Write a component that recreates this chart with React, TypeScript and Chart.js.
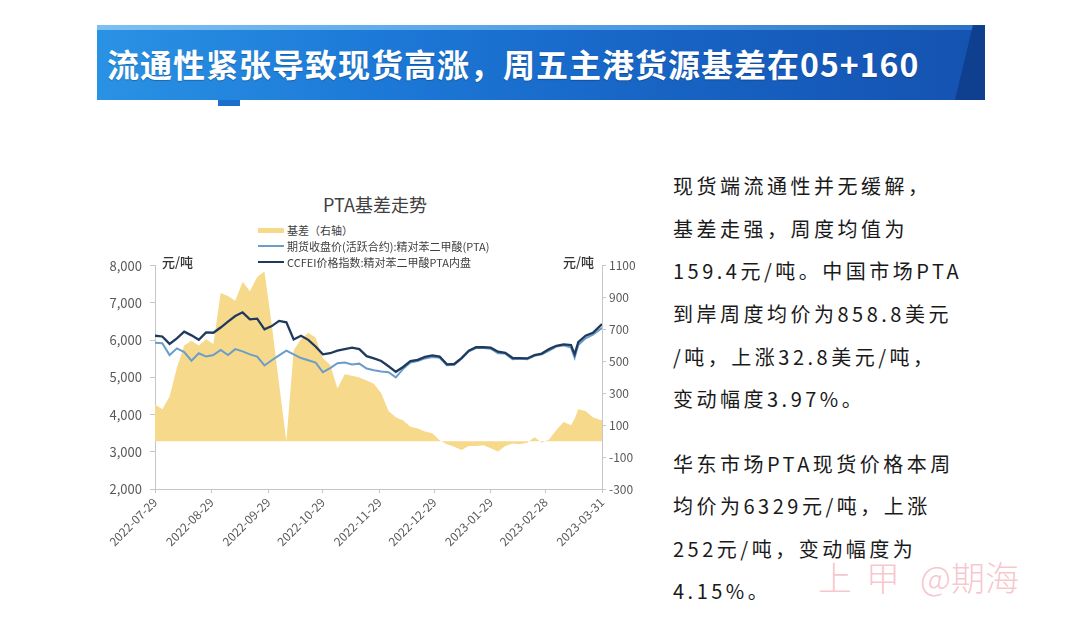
import React, { useEffect, useRef } from "react";
import { Chart, registerables } from "chart.js";

Chart.register(...registerables);

const dates = [
  "2022-07-29", "2022-08-02", "2022-08-06", "2022-08-10", "2022-08-14", "2022-08-18", "2022-08-22", "2022-08-26",
  "2022-08-30", "2022-09-03", "2022-09-07", "2022-09-11", "2022-09-15", "2022-09-19", "2022-09-23", "2022-09-27",
  "2022-10-01", "2022-10-05", "2022-10-09", "2022-10-13", "2022-10-17", "2022-10-21", "2022-10-25", "2022-10-29",
  "2022-11-02", "2022-11-06", "2022-11-10", "2022-11-14", "2022-11-18", "2022-11-22", "2022-11-26", "2022-11-30",
  "2022-12-04", "2022-12-08", "2022-12-12", "2022-12-16", "2022-12-20", "2022-12-24", "2022-12-28", "2023-01-01",
  "2023-01-05", "2023-01-09", "2023-01-13", "2023-01-17", "2023-01-21", "2023-01-25", "2023-01-29", "2023-02-02",
  "2023-02-06", "2023-02-10", "2023-02-14", "2023-02-18", "2023-02-22", "2023-02-26", "2023-03-02", "2023-03-06",
  "2023-03-10", "2023-03-14", "2023-03-16", "2023-03-18", "2023-03-22", "2023-03-26", "2023-03-31",
];

const ccfeiIndex = [
  6120, 6100, 5900, 6050, 6230, 6130, 6010, 6210,
  6200, 6340, 6500, 6650, 6750, 6560, 6580, 6290,
  6380, 6520, 6480, 6020, 6120, 6010, 5830, 5620,
  5650, 5720, 5760, 5800, 5760, 5570, 5510, 5440,
  5300, 5150, 5280, 5440, 5470, 5550, 5590, 5560,
  5350, 5360, 5520, 5720, 5810, 5810, 5800, 5690,
  5660, 5520, 5520, 5510, 5600, 5640, 5760, 5850,
  5890, 5870, 5620, 5950, 6120, 6200, 6430,
];

const futuresClose = [
  5930, 5920, 5600, 5780, 5680, 5450, 5650, 5560,
  5600, 5740, 5600, 5760, 5700, 5620, 5560, 5320,
  5460, 5590, 5720, 5620, 5520, 5460, 5400, 5140,
  5250, 5380, 5400, 5350, 5370, 5240, 5190, 5160,
  5140, 5000, 5230, 5400, 5440, 5510, 5550, 5530,
  5330, 5340, 5500, 5700, 5790, 5790, 5770, 5650,
  5640, 5490, 5500, 5490, 5580, 5620, 5720, 5830,
  5860, 5800, 5530, 5870, 6050, 6150, 6330,
];

const basisRightAxis = [
  230, 200, 280, 460, 600, 630, 600, 640,
  610, 930, 910, 880, 1000, 940, 1030, 1065,
  730, 360, 0, 570, 640, 680, 650, 520,
  480, 330, 420, 410, 400, 380, 360, 300,
  190, 150, 130, 90, 80, 60, 50, 5,
  -20, -35, -55, -30, -30, -25, -45, -65,
  -30, -15, -20, -10, 25, -10, 10, 70,
  120, 100, 140, 200, 190, 150, 130,
];

const xTickLabels = [
  "2022-07-29", "2022-08-29", "2022-09-29", "2022-10-29", "2022-11-29",
  "2022-12-29", "2023-01-29", "2023-02-28", "2023-03-31",
];
const leftTicks = [2000, 3000, 4000, 5000, 6000, 7000, 8000];
const rightTicks = [-300, -100, 100, 300, 500, 700, 900, 1100];

const legendLabels = [
  "基差（右轴）",
  "期货收盘价(活跃合约):精对苯二甲酸(PTA)",
  "CCFEI价格指数:精对苯二甲酸PTA内盘",
];
const chartTitle = "PTA基差走势";
const unitLabel = "元/吨";
const headline = "流通性紧张导致现货高涨，周五主港货源基差在05+160";
const para1 = [
  "现货端流通性并无缓解，",
  "基差走强，周度均值为",
  "159.4元/吨。中国市场PTA",
  "到岸周度均价为858.8美元",
  "/吨，上涨32.8美元/吨，",
  "变动幅度3.97%。",
];
const para2 = [
  "华东市场PTA现货价格本周",
  "均价为6329元/吨，上涨",
  "252元/吨，变动幅度为",
  "4.15%。",
];
const watermark = ["上甲", "@期海"];

const COLOR_CCFEI = "#1f3a5c";
const COLOR_FUT = "#6a9dc9";
const COLOR_BASIS = "#f7d98c";
const FONT = "'Noto Sans CJK SC', 'Noto Sans', sans-serif";

export default function App() {
  const ref = useRef<HTMLCanvasElement>(null);

  useEffect(() => {
    const t0 = Date.parse(dates[0]);
    const dayOf = (s: string) => Math.round((Date.parse(s) - t0) / 86400000);
    const xs = dates.map(dayOf);
    const toPts = (arr: number[]) => arr.map((y, i) => ({ x: xs[i], y }));
    const xTickDays = xTickLabels.map(dayOf);
    const tickFont = { family: FONT, size: 12 };
    const yTickFont = { family: FONT, size: 13 };
    const axisColor = "#c6c6c6";

    const chart = new Chart(ref.current as HTMLCanvasElement, {
      type: "line",
      data: {
        datasets: [
          {
            label: legendLabels[2],
            data: toPts(ccfeiIndex),
            borderColor: COLOR_CCFEI,
            borderWidth: 2.3,
            pointRadius: 0,
            yAxisID: "y",
            order: 1,
            fill: false,
          },
          {
            label: legendLabels[1],
            data: toPts(futuresClose),
            borderColor: COLOR_FUT,
            borderWidth: 2,
            pointRadius: 0,
            yAxisID: "y",
            order: 2,
            fill: false,
          },
          {
            label: legendLabels[0],
            data: toPts(basisRightAxis),
            borderColor: "rgba(0,0,0,0)",
            borderWidth: 0,
            backgroundColor: COLOR_BASIS,
            pointRadius: 0,
            yAxisID: "y1",
            order: 3,
            fill: "origin",
          },
        ],
      },
      options: {
        animation: false,
        responsive: false,
        maintainAspectRatio: false,
        layout: { padding: { top: 13, left: 0, right: 0, bottom: 0 } },
        plugins: {
          legend: { display: false },
          title: { display: false },
          tooltip: { enabled: false },
        },
        scales: {
          x: {
            type: "linear",
            min: 0,
            max: xTickDays[xTickDays.length - 1],
            afterBuildTicks: (s: any) => {
              s.ticks = xTickDays.map((v) => ({ value: v }));
            },
            afterFit: (s: any) => {
              s.height = 91;
            },
            ticks: {
              autoSkip: false,
              minRotation: 45,
              maxRotation: 45,
              padding: 2,
              color: "#595959",
              font: tickFont,
              callback: (_v: any, i: number) => xTickLabels[i],
            },
            grid: { display: true, drawOnChartArea: false, drawTicks: true, tickLength: 4, color: axisColor },
            border: { display: true, color: axisColor },
          },
          y: {
            position: "left",
            min: leftTicks[0],
            max: leftTicks[leftTicks.length - 1],
            afterBuildTicks: (s: any) => {
              s.ticks = leftTicks.map((v) => ({ value: v }));
            },
            afterFit: (s: any) => {
              s.width = 55;
            },
            ticks: {
              padding: 8,
              color: "#595959",
              font: yTickFont,
              callback: (v: any) => Number(v).toLocaleString("en-US"),
            },
            grid: { display: true, drawOnChartArea: false, drawTicks: true, tickLength: 5, color: axisColor },
            border: { display: true, color: axisColor },
          },
          y1: {
            position: "right",
            min: rightTicks[0],
            max: rightTicks[rightTicks.length - 1],
            afterBuildTicks: (s: any) => {
              s.ticks = rightTicks.map((v) => ({ value: v }));
            },
            afterFit: (s: any) => {
              s.width = 38;
            },
            ticks: {
              padding: 3,
              color: "#595959",
              font: tickFont,
              callback: (v: any) => String(v),
            },
            grid: { display: true, drawOnChartArea: false, drawTicks: true, tickLength: 4, color: axisColor },
            border: { display: true, color: axisColor },
          },
        },
      },
    } as any);
    return () => chart.destroy();
  }, []);

  const legendColors = [COLOR_BASIS, COLOR_FUT, COLOR_CCFEI];
  const legendThick = [5, 2, 2];
  const legendY = [230, 246, 262];
  const p1Y = [186, 229, 271, 314, 357, 399];
  const p2Y = [464, 506, 549, 591];

  return (
    <div
      style={{
        position: "fixed",
        left: 0,
        top: 0,
        width: 1080,
        height: 624,
        background: "#ffffff",
        overflow: "hidden",
        fontFamily: FONT,
      }}
    >
      {/* headline banner */}
      <div
        style={{
          position: "absolute",
          left: 97,
          top: 25,
          width: 888,
          height: 75,
          background: "linear-gradient(90deg, #2a92e4 0%, #1d7ad8 30%, #1763c4 65%, #1552b0 100%)",
        }}
      />
      <div
        style={{
          position: "absolute",
          left: 97,
          top: 25,
          width: 888,
          height: 5,
          background: "linear-gradient(90deg, #7cc0f2 0%, #4a9be4 60%, #2a6fc4 100%)",
        }}
      />
      <div
        style={{
          position: "absolute",
          left: 955,
          top: 25,
          width: 30,
          height: 75,
          background: "#0f3f8f",
          clipPath: "polygon(60% 0, 100% 0, 100% 100%, 0 100%)",
        }}
      />
      <div
        style={{
          position: "absolute",
          left: 218,
          top: 100,
          width: 22,
          height: 6,
          background: "#1d6fcc",
        }}
      />
      <div
        style={{
          position: "absolute",
          left: 107,
          top: 25,
          height: 75,
          display: "flex",
          alignItems: "center",
          color: "#ffffff",
          fontSize: 32,
          fontWeight: 700,
          letterSpacing: 1,
          whiteSpace: "nowrap",
          textShadow: "0 1px 1px rgba(0,0,0,0.25)",
        }}
      >
        {headline}
      </div>

      {/* chart title */}
      <div
        style={{
          position: "absolute",
          left: 275,
          width: 200,
          top: 193,
          textAlign: "center",
          fontSize: 18,
          lineHeight: "22px",
          color: "#404040",
        }}
      >
        {chartTitle}
      </div>

      {/* legend */}
      {legendLabels.map((lab, i) => (
        <div
          key={i}
          style={{
            position: "absolute",
            left: 258,
            top: legendY[i] - 8,
            height: 16,
            display: "flex",
            alignItems: "center",
            whiteSpace: "nowrap",
            fontSize: 11,
            color: "#404040",
            zIndex: 2,
          }}
        >
          <span
            style={{
              display: "inline-block",
              width: 26,
              height: legendThick[i],
              background: legendColors[i],
              marginRight: 3,
            }}
          />
          {lab}
        </div>
      ))}

      {/* canvas */}
      <canvas
        ref={ref}
        width={540}
        height={330}
        style={{ position: "absolute", left: 100, top: 250, width: 540, height: 330 }}
      />

      {/* unit labels */}
      <div
        style={{
          position: "absolute",
          left: 162,
          top: 254,
          fontSize: 13,
          lineHeight: "16px",
          color: "#333333",
          fontWeight: 500,
          zIndex: 2,
        }}
      >
        {unitLabel}
      </div>
      <div
        style={{
          position: "absolute",
          left: 563,
          top: 254,
          fontSize: 13,
          lineHeight: "16px",
          color: "#333333",
          fontWeight: 500,
          zIndex: 2,
        }}
      >
        {unitLabel}
      </div>

      {/* right text */}
      {para1.map((t, i) => (
        <div
          key={"a" + i}
          style={{
            position: "absolute",
            left: 673,
            top: p1Y[i] - 14,
            height: 28,
            lineHeight: "28px",
            fontSize: 20,
            letterSpacing: 3.5,
            color: "#1a1a1a",
            whiteSpace: "nowrap",
          }}
        >
          {t}
        </div>
      ))}
      {para2.map((t, i) => (
        <div
          key={"b" + i}
          style={{
            position: "absolute",
            left: 673,
            top: p2Y[i] - 14,
            height: 28,
            lineHeight: "28px",
            fontSize: 20,
            letterSpacing: 3.5,
            color: "#1a1a1a",
            whiteSpace: "nowrap",
          }}
        >
          {t}
        </div>
      ))}

      {/* watermark */}
      <div
        style={{
          position: "absolute",
          left: 818,
          top: 556,
          fontSize: 34,
          lineHeight: "42px",
          color: "rgba(240, 150, 165, 0.55)",
          whiteSpace: "nowrap",
          fontWeight: 300,
        }}
      >
        <span style={{ letterSpacing: 14 }}>{watermark[0]}</span>
        <span style={{ marginLeft: 6 }}>{watermark[1]}</span>
      </div>
    </div>
  );
}
